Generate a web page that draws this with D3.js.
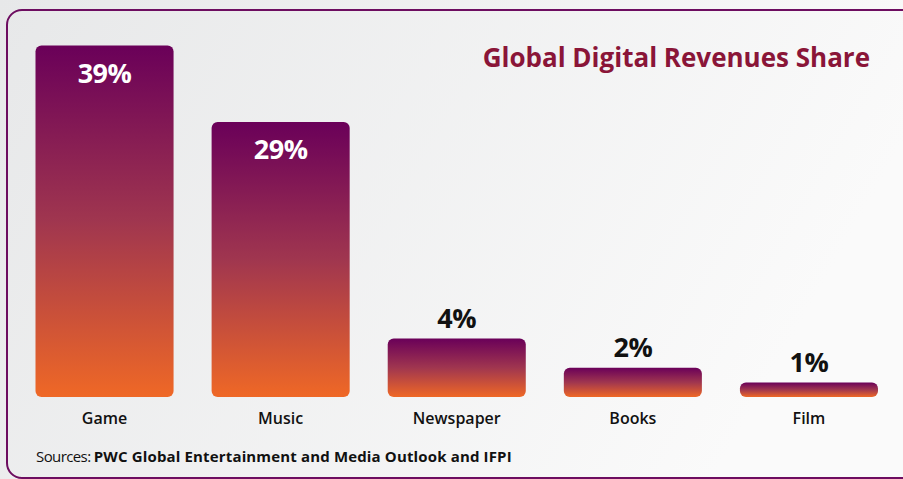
<!DOCTYPE html>
<html>
<head>
<meta charset="utf-8">
<script src="https://cdn.jsdelivr.net/npm/d3@7/dist/d3.min.js"></script>
<style>
  html, body { margin: 0; padding: 0; background: #eeeeee; }
  svg { display: block; }
</style>
</head>
<body>
<svg id="chart" width="903" height="479"></svg>
<script>
const categories = ["Game", "Music", "Newspaper", "Books", "Film"];
const shares = [39, 29, 4, 2, 1];
const valueLabels = ["39%", "29%", "4%", "2%", "1%"];
const titleText = "Global Digital Revenues Share";
const sourceLead = "Sources: ";
const sourceBody = "PWC Global Entertainment and Media Outlook and IFPI";

const W = 903, H = 479;
const FONT = "'Open Sans', Lato, sans-serif";
const svg = d3.select("#chart");
const defs = svg.append("defs");

const bg = defs.append("linearGradient").attr("id", "bg")
  .attr("x1", "0%").attr("y1", "0%").attr("x2", "100%").attr("y2", "30%");
bg.append("stop").attr("offset", "0%").attr("stop-color", "#e7e8e9");
bg.append("stop").attr("offset", "100%").attr("stop-color", "#fafafa");

const barGrad = defs.append("linearGradient").attr("id", "barGrad")
  .attr("x1", "0").attr("y1", "0").attr("x2", "0").attr("y2", "1");
barGrad.append("stop").attr("offset", "0%").attr("stop-color", "#6a0059");
barGrad.append("stop").attr("offset", "50%").attr("stop-color", "#a0364f");
barGrad.append("stop").attr("offset", "100%").attr("stop-color", "#ef6826");

svg.append("rect").attr("width", W).attr("height", H).attr("fill", "url(#bg)");

// frame
svg.append("rect")
  .attr("x", 7).attr("y", 10).attr("width", 940).attr("height", 468)
  .attr("rx", 15).attr("ry", 15)
  .attr("fill", "none").attr("stroke", "#6d0d60").attr("stroke-width", 2);

const x = d3.scaleBand().domain(categories).range([35.5, 878])
  .paddingInner(0.216).paddingOuter(0);
// the reference compresses the tall bars: two-piece linear scale
const y = d3.scaleLinear().domain([0, 7.65, 39]).range([397, 285.3, 45.5]);

const data = categories.map((c, i) => ({ c, v: shares[i], label: valueLabels[i] }));

svg.append("g").selectAll("rect").data(data).join("rect")
  .attr("x", d => x(d.c))
  .attr("y", d => y(d.v))
  .attr("width", x.bandwidth())
  .attr("height", d => y(0) - y(d.v))
  .attr("rx", 6).attr("ry", 6)
  .attr("fill", "url(#barGrad)");

svg.append("g").selectAll("text").data(data).join("text")
  .attr("x", d => x(d.c) + x.bandwidth() / 2)
  .attr("y", d => d.v >= 10 ? y(d.v) + 37 : y(d.v) - 10.5)
  .attr("text-anchor", "middle")
  .attr("font-family", FONT)
  .attr("font-weight", 700)
  .attr("font-size", 27)
  .attr("letter-spacing", -0.5)
  .attr("fill", d => d.v >= 10 ? "#ffffff" : "#111111")
  .text(d => d.label);

// category axis labels
const axis = d3.axisBottom(x).tickSize(0).tickPadding(0);
const ax = svg.append("g").attr("transform", "translate(0,413)").call(axis);
ax.select(".domain").remove();
ax.selectAll("text")
  .attr("font-family", FONT)
  .attr("font-weight", 600)
  .attr("font-size", 16)
  .attr("fill", "#111111");

// title
svg.append("text")
  .attr("x", 870).attr("y", 67)
  .attr("text-anchor", "end")
  .attr("font-family", FONT)
  .attr("font-weight", 700)
  .attr("font-size", 26)
  .attr("fill", "#8a1538")
  .text(titleText);

// source
const src = svg.append("text")
  .attr("x", 36).attr("y", 462)
  .attr("font-family", FONT)
  .attr("font-size", 15)
  .attr("fill", "#111111");
src.append("tspan").attr("font-weight", 400).attr("letter-spacing", -0.6).text(sourceLead);
src.append("tspan").attr("font-weight", 700).attr("letter-spacing", 0.15).text(sourceBody);
</script>
</body>
</html>
